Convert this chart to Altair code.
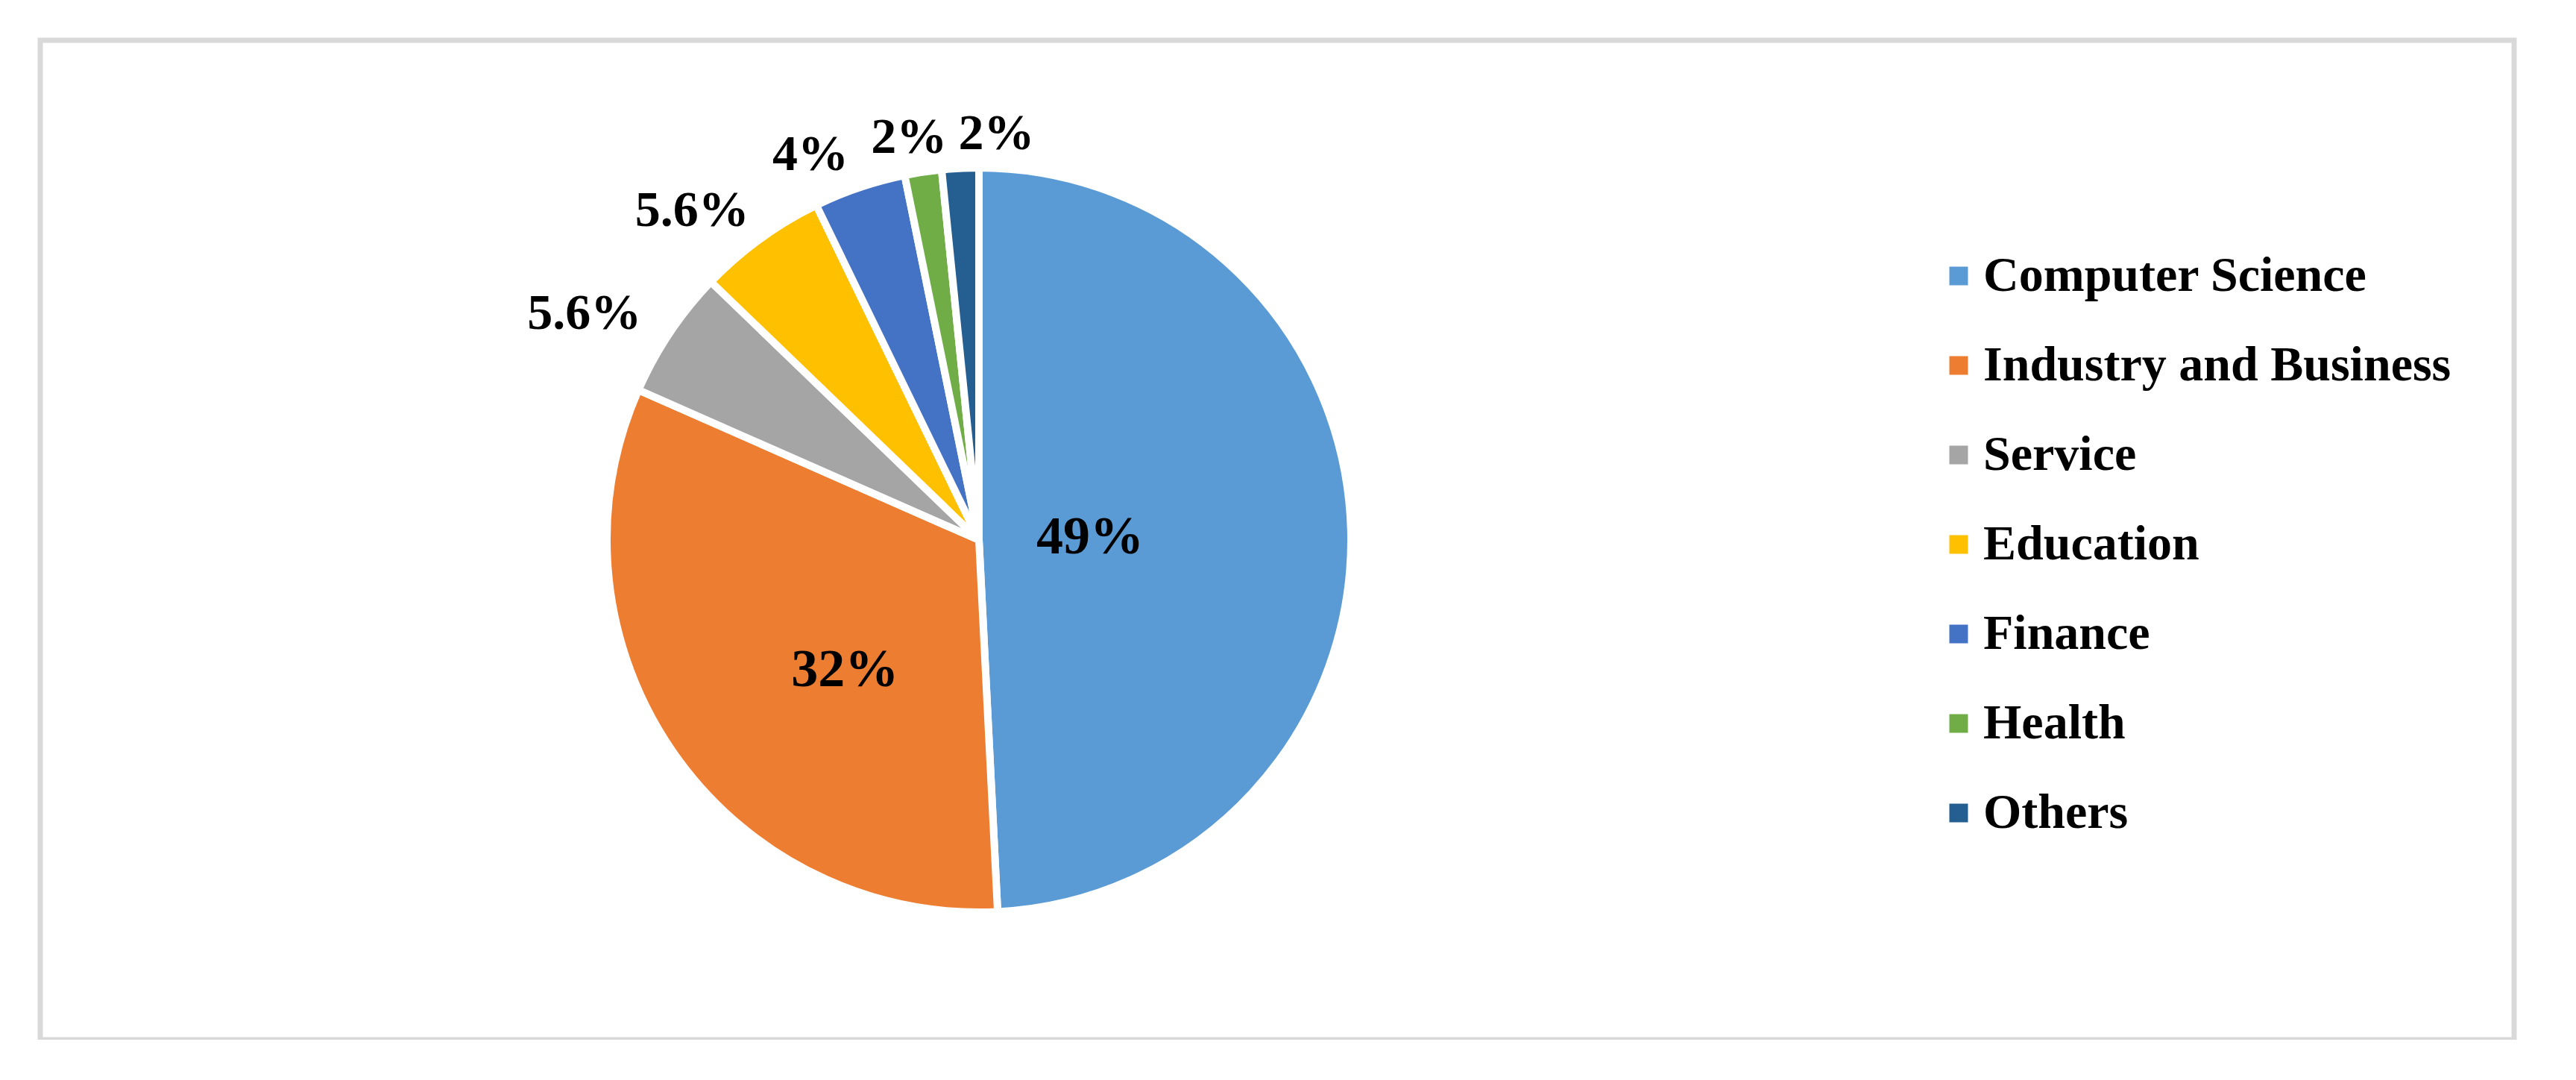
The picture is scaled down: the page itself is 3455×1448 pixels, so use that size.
import math
import altair as alt
import pandas as pd

categories = ["Computer Science", "Industry and Business", "Service", "Education",
              "Finance", "Health", "Others"]
values = [123, 81, 14, 14, 10, 4, 4]
labels = ["49%", "32%", "5.6%", "5.6%", "4%", "2%", "2%"]
colors = ["#5B9BD5", "#ED7D31", "#A5A5A5", "#FFC000", "#4472C4", "#70AD47", "#255E91"]

df = pd.DataFrame({
    "idx": list(range(len(categories))),
    "category": categories,
    "value": values,
    "label": labels,
})

FONT = "Liberation Serif"
CX = 1259  # pie centre inside the plot area

theta_scale = alt.Scale(domain=[0, 1], range=[0, 2 * math.pi])

base = (
    alt.Chart(df)
    .transform_joinaggregate(total="sum(value)")
    .transform_stack(stack="value", groupby=[], as_=["v0", "v1"],
                     sort=[alt.SortField("idx", order="ascending")])
    .transform_calculate(
        f0="datum.v0 / datum.total",
        f1="datum.v1 / datum.total",
        fm="(datum.v0 + datum.v1) / 2 / datum.total",
    )
)

arcs = base.mark_arc(outerRadius=499, stroke="white", strokeWidth=10).encode(
    x=alt.value(CX),
    theta=alt.Theta("f0:Q", scale=theta_scale),
    theta2="f1:Q",
    color=alt.Color(
        "category:N",
        scale=alt.Scale(domain=categories, range=colors),
        legend=alt.Legend(
            title=None, orient="none", legendX=2540, legendY=283,
            symbolType="square", symbolSize=625, symbolStrokeWidth=0,
            labelFont=FONT, labelFontWeight="bold", labelFontSize=66,
            labelColor="black", labelOffset=0, labelLimit=2000,
            rowPadding=54, padding=0,
        ),
    ),
)


def label_layer(names, radius, align, size=68, dx=0, dy=0):
    flt = alt.FieldOneOfPredicate(field="category", oneOf=names)
    return base.transform_filter(flt).mark_text(
        radius=radius, align=align, baseline="middle", font=FONT,
        fontWeight="bold", fontSize=size, color="black", dx=dx, dy=dy,
    ).encode(
        x=alt.value(CX),
        theta=alt.Theta("fm:Q", scale=theta_scale),
        text="label:N",
    )


layers = [
    arcs,
    label_layer(["Computer Science"], 149, "center", size=72),
    label_layer(["Industry and Business"], 240, "center", size=72, dx=18, dy=38),
    label_layer(["Service", "Finance"], 545, "right"),
    label_layer(["Education"], 545, "right", dx=12),
    label_layer(["Health"], 545, "center", dx=-12),
    label_layer(["Others"], 545, "left"),
]

chart = (
    alt.layer(*layers)
    .properties(width=3318, height=1340,
                padding={"left": 46, "top": 46, "right": 40, "bottom": 0},
                background="white")
    .configure_view(stroke="#d9d9d9", strokeWidth=7)
)

chart.save("out.html", embed_options={"renderer": "svg", "actions": False})
